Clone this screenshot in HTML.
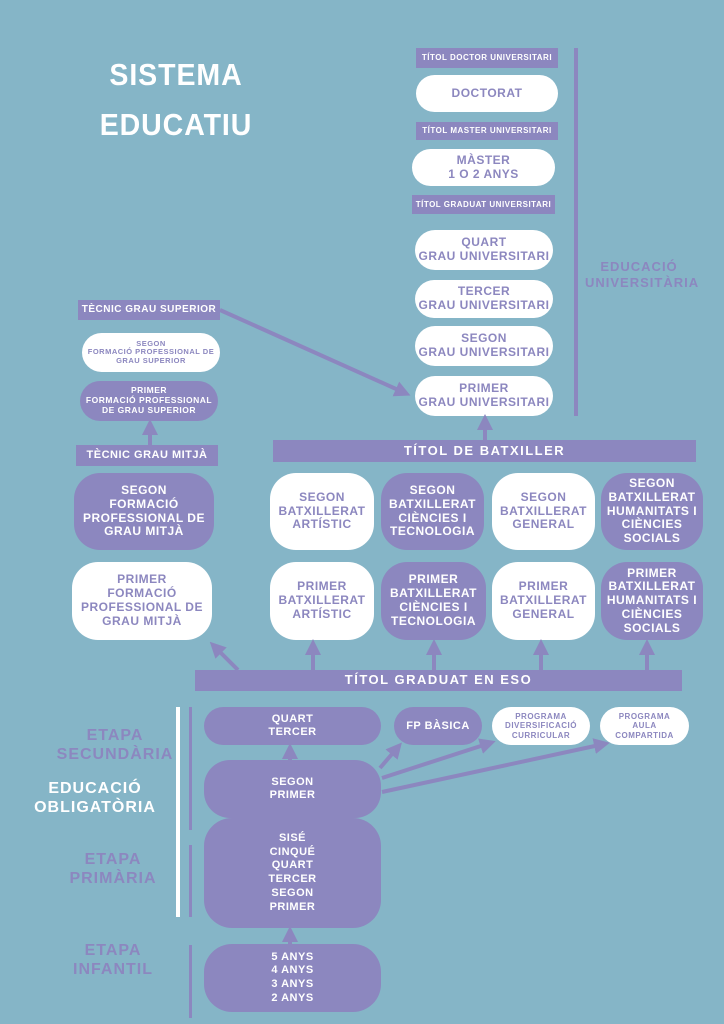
<!DOCTYPE html>
<html><head><meta charset="utf-8"><style>
*{margin:0;padding:0;box-sizing:border-box}
body{width:724px;height:1024px;background:#85b5c7;position:relative;overflow:hidden;font-family:"Liberation Sans",sans-serif;font-weight:bold}
.b{position:absolute;display:flex;align-items:center;justify-content:center;text-align:center;line-height:1.15;letter-spacing:0.5px}
.p{background:#8c87bf;color:#fff}
.w{background:#fff;color:#8c87bf}
.bar{background:#8c87bf;color:#fff}
.r{border-radius:20px}
.lbl{position:absolute;text-align:center;line-height:1.2;letter-spacing:1px}
svg{position:absolute;left:0;top:0}
</style></head><body>
<div class="lbl" style="left:86px;top:50px;width:180px;font-size:31px;color:#fff;line-height:50px;letter-spacing:1px;transform:scaleX(0.92)">SISTEMA<br>EDUCATIU</div>

<div class="b bar" style="left:416px;top:48px;width:142px;height:20px;font-size:8px">TÍTOL DOCTOR UNIVERSITARI</div>
<div class="b w r" style="left:416px;top:75px;width:142px;height:37px;font-size:12px">DOCTORAT</div>
<div class="b bar" style="left:416px;top:122px;width:142px;height:18px;font-size:8px">TÍTOL MASTER UNIVERSITARI</div>
<div class="b w r" style="left:412px;top:149px;width:143px;height:37px;font-size:12px">MÀSTER<br>1 O 2 ANYS</div>
<div class="b bar" style="left:412px;top:195px;width:143px;height:19px;font-size:8px">TÍTOL GRADUAT UNIVERSITARI</div>
<div class="b w r" style="left:415px;top:230px;width:138px;height:40px;font-size:12px">QUART<br>GRAU UNIVERSITARI</div>
<div class="b w r" style="left:415px;top:280px;width:138px;height:38px;font-size:12px">TERCER<br>GRAU UNIVERSITARI</div>
<div class="b w r" style="left:415px;top:326px;width:138px;height:40px;font-size:12px">SEGON<br>GRAU UNIVERSITARI</div>
<div class="b w r" style="left:415px;top:376px;width:138px;height:40px;font-size:12px">PRIMER<br>GRAU UNIVERSITARI</div>
<div style="position:absolute;left:574px;top:48px;width:4px;height:368px;background:#8c87bf"></div>
<div class="lbl" style="left:585px;top:259px;width:108px;font-size:13px;color:#8c87bf">EDUCACIÓ<br>UNIVERSITÀRIA</div>

<div class="b bar" style="left:78px;top:300px;width:142px;height:20px;font-size:10px">TÈCNIC GRAU SUPERIOR</div>
<div class="b w r" style="left:82px;top:333px;width:138px;height:39px;font-size:7.5px">SEGON<br>FORMACIÓ PROFESSIONAL DE<br>GRAU SUPERIOR</div>
<div class="b p r" style="left:80px;top:381px;width:138px;height:40px;font-size:8.5px">PRIMER<br>FORMACIÓ PROFESSIONAL<br>DE GRAU SUPERIOR</div>
<div class="b bar" style="left:76px;top:445px;width:142px;height:21px;font-size:11px">TÈCNIC GRAU MITJÀ</div>

<div class="b bar" style="left:273px;top:440px;width:423px;height:22px;font-size:13px;letter-spacing:1.5px">TÍTOL DE BATXILLER</div>

<div class="b p" style="left:74px;top:473px;width:140px;height:77px;border-radius:26px;font-size:12px">SEGON<br>FORMACIÓ<br>PROFESSIONAL DE<br>GRAU MITJÀ</div>
<div class="b w" style="left:270px;top:473px;width:104px;height:77px;border-radius:26px;font-size:12px">SEGON<br>BATXILLERAT<br>ARTÍSTIC</div>
<div class="b p" style="left:381px;top:473px;width:103px;height:77px;border-radius:26px;font-size:12px">SEGON<br>BATXILLERAT<br>CIÈNCIES I<br>TECNOLOGIA</div>
<div class="b w" style="left:492px;top:473px;width:103px;height:77px;border-radius:26px;font-size:12px">SEGON<br>BATXILLERAT<br>GENERAL</div>
<div class="b p" style="left:601px;top:473px;width:102px;height:77px;border-radius:26px;font-size:12px">SEGON<br>BATXILLERAT<br>HUMANITATS I<br>CIÈNCIES<br>SOCIALS</div>

<div class="b w" style="left:72px;top:562px;width:140px;height:78px;border-radius:26px;font-size:12px">PRIMER<br>FORMACIÓ<br>PROFESSIONAL DE<br>GRAU MITJÀ</div>
<div class="b w" style="left:270px;top:562px;width:104px;height:78px;border-radius:26px;font-size:12px">PRIMER<br>BATXILLERAT<br>ARTÍSTIC</div>
<div class="b p" style="left:381px;top:562px;width:105px;height:78px;border-radius:26px;font-size:12px">PRIMER<br>BATXILLERAT<br>CIÈNCIES I<br>TECNOLOGIA</div>
<div class="b w" style="left:492px;top:562px;width:103px;height:78px;border-radius:26px;font-size:12px">PRIMER<br>BATXILLERAT<br>GENERAL</div>
<div class="b p" style="left:601px;top:562px;width:102px;height:78px;border-radius:26px;font-size:12px">PRIMER<br>BATXILLERAT<br>HUMANITATS I<br>CIÈNCIES<br>SOCIALS</div>

<div class="b bar" style="left:195px;top:670px;width:487px;height:21px;font-size:13px;letter-spacing:1.5px">TÍTOL GRADUAT EN ESO</div>

<div style="position:absolute;left:176px;top:707px;width:4px;height:210px;background:#fff"></div>
<div style="position:absolute;left:189px;top:707px;width:3px;height:123px;background:#8c87bf"></div>
<div style="position:absolute;left:189px;top:845px;width:3px;height:72px;background:#8c87bf"></div>
<div style="position:absolute;left:189px;top:945px;width:3px;height:73px;background:#8c87bf"></div>

<div class="lbl" style="left:40px;top:726px;width:150px;font-size:16px;color:#8c87bf">ETAPA<br>SECUNDÀRIA</div>
<div class="lbl" style="left:20px;top:779px;width:150px;font-size:16px;color:#fff">EDUCACIÓ<br>OBLIGATÒRIA</div>
<div class="lbl" style="left:38px;top:850px;width:150px;font-size:16px;color:#8c87bf">ETAPA<br>PRIMÀRIA</div>
<div class="lbl" style="left:38px;top:941px;width:150px;font-size:16px;color:#8c87bf">ETAPA<br>INFANTIL</div>

<div class="b p" style="left:204px;top:707px;width:177px;height:38px;border-radius:19px;font-size:11px">QUART<br>TERCER</div>
<div class="b p" style="left:204px;top:760px;width:177px;height:58px;border-radius:26px;font-size:11px">SEGON<br>PRIMER</div>
<div class="b p" style="left:204px;top:818px;width:177px;height:110px;border-radius:28px;font-size:11px;line-height:1.25">SISÉ<br>CINQUÉ<br>QUART<br>TERCER<br>SEGON<br>PRIMER</div>
<div class="b p" style="left:204px;top:944px;width:177px;height:68px;border-radius:28px;font-size:11px;line-height:1.25">5 ANYS<br>4 ANYS<br>3 ANYS<br>2 ANYS</div>
<div class="b p" style="left:394px;top:707px;width:88px;height:38px;border-radius:19px;font-size:11px">FP BÀSICA</div>
<div class="b w" style="left:492px;top:707px;width:98px;height:38px;border-radius:19px;font-size:8px">PROGRAMA<br>DIVERSIFICACIÓ<br>CURRICULAR</div>
<div class="b w" style="left:600px;top:707px;width:89px;height:38px;border-radius:19px;font-size:8px">PROGRAMA<br>AULA<br>COMPARTIDA</div>

<svg width="724" height="1024">
<defs><marker id="a" markerWidth="4" markerHeight="4" refX="2.5" refY="2" orient="auto"><path d="M0,0L4,2L0,4z" fill="#8c87bf"/></marker></defs>
<g stroke="#8c87bf" stroke-width="4" fill="none" marker-end="url(#a)">
<line x1="220" y1="310" x2="405" y2="393"/>
<line x1="150" y1="445" x2="150" y2="425"/>
<line x1="485" y1="440" x2="485" y2="420"/>
<line x1="313" y1="670" x2="313" y2="645"/>
<line x1="434" y1="670" x2="434" y2="645"/>
<line x1="541" y1="670" x2="541" y2="645"/>
<line x1="647" y1="670" x2="647" y2="645"/>
<line x1="238" y1="670" x2="214" y2="646"/>
<line x1="290" y1="760" x2="290" y2="749"/>
<line x1="290" y1="818" x2="290" y2="812"/>
<line x1="290" y1="944" x2="290" y2="932"/>
<line x1="380" y1="768" x2="398" y2="747"/>
<line x1="382" y1="778" x2="490" y2="743"/>
<line x1="382" y1="792" x2="604" y2="744"/>
</g></svg>
</body></html>
